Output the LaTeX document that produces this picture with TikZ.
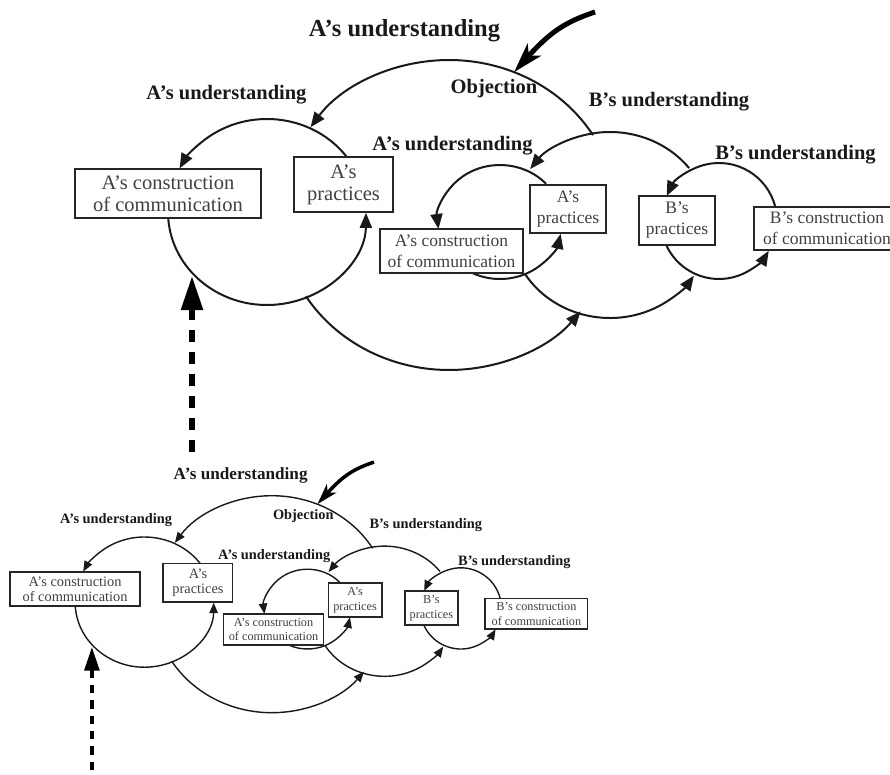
\documentclass[tikz,border=0pt]{standalone}
\usepackage{fontspec}
\setmainfont{Liberation Serif}
\usetikzlibrary{arrows.meta}
\def\dgf{1}
\def\dOn{12}
\def\dOff{10}
\tikzset{
  lbl/.style={font=\bfseries\fontsize{20.5}{22}\selectfont, inner sep=0pt, text=black!90},
  ttl/.style={font=\bfseries\fontsize{24.5}{26}\selectfont, inner sep=0pt, text=black!90},
  bigbox/.style={draw=black!85, line width=2.4*\dgf, fill=white, inner sep=0pt, align=center,
                 text=black!75, font=\fontsize{20.5}{22}\selectfont},
  smallbox/.style={bigbox, font=\fontsize{17.5}{21}\selectfont},
  loopline/.style={draw=black!90, line width=2*\dgf, -{Triangle[length=15pt,width=12pt,scale=\dgf]}},
  dasharrow/.style={draw=black, line width=5.5*\dgf, dash pattern=on \dOn pt off \dOff pt,
                 -{Triangle[length=34pt,width=21pt,scale=\dgf]}},
  objarrow/.style={draw=black, line width=5*\dgf, -{Stealth[length=30pt,width=18pt,inset=8pt,scale=\dgf]}}
}
\newcommand\drawdiag[1]{%
  \pgfmathsetmacro\dOn{12*\dgf}\pgfmathsetmacro\dOff{10*\dgf}%
  % loop centres
  \coordinate (#1L) at (267,212);
  \coordinate (#1E) at (449,215);
  \coordinate (#1M) at (610,225);
  \coordinate (#1I) at (500,222);
  \coordinate (#1R) at (719,221);
  % start points of the loops
  \path (#1L) ++(-36:99 and 93) coordinate (#1La);
  \path (#1L) ++(176:99 and 93) coordinate (#1Lb);
  \path (#1E) ++(-31:168 and 155) coordinate (#1Ea);
  \path (#1E) ++(148.4:168 and 155) coordinate (#1Eb);
  \path (#1M) ++(-37.7:100 and 93) coordinate (#1Ma);
  \path (#1M) ++(148.2:100 and 93) coordinate (#1Mb);
  \path (#1I) ++(-42:62 and 57) coordinate (#1Ia);
  \path (#1I) ++(116:62 and 57) coordinate (#1Ib);
  \path (#1R) ++(-14:58 and 58) coordinate (#1Ra);
  \path (#1R) ++(154.5:58 and 58) coordinate (#1Rb);
  % loops
  \draw[loopline] (#1La) arc[start angle=-36,end angle=-152,x radius=99,y radius=93];
  \draw[loopline] (#1Lb) arc[start angle=176,end angle=0.5,x radius=99,y radius=93];
  \draw[loopline] (#1Ea) arc[start angle=-31,end angle=-145.5,x radius=168,y radius=155];
  \draw[loopline] (#1Eb) arc[start angle=148.4,end angle=38.4,x radius=168,y radius=155];
  \draw[loopline] (#1Ma) arc[start angle=-37.7,end angle=-143,x radius=100,y radius=93];
  \draw[loopline] (#1Mb) arc[start angle=148.2,end angle=33,x radius=100,y radius=93];
  \draw[loopline] (#1Ia) arc[start angle=-42,end angle=-187,x radius=62,y radius=57];
  \draw[loopline] (#1Ib) arc[start angle=116,end angle=12,x radius=62,y radius=57];
  \draw[loopline] (#1Ra) arc[start angle=-14,end angle=-154.5,x radius=58,y radius=58];
  \draw[loopline] (#1Rb) arc[start angle=154.5,end angle=31,x radius=58,y radius=58];
  % objection arrow
  \coordinate (#1oS) at (595,12);
  \path (#1E) ++(-67.2:168 and 155) coordinate (#1oT);
  \draw[objarrow] (#1oS) .. controls +(-30,10) and +(36,-40) .. (#1oT);
  % dashed arrow
  \coordinate (#1dS) at (192,452);
  \coordinate (#1dT) at (192,276);
  \draw[dasharrow] (#1dS) -- (#1dT);
  % boxes
  \node[bigbox, minimum width=186, minimum height=49] (#1cA) at (168,193.5) {A’s construction\\of communication};
  \node[bigbox, minimum width=99, minimum height=55] (#1pA) at (343.5,184.5) {A’s\\practices};
  \node[smallbox, minimum width=143, minimum height=44] (#1cAi) at (451.5,251) {A’s construction\\of communication};
  \node[smallbox, minimum width=76, minimum height=48] (#1pAi) at (568,209) {A’s\\practices};
  \node[smallbox, minimum width=76, minimum height=49] (#1pB) at (677,220.5) {B’s\\practices};
  \node[smallbox, minimum width=146, minimum height=43] (#1cB) at (827,228.5) {B’s construction\\of communication};
  % labels
  \node[ttl] (#1t0) at (404.5,31) {A’s understanding};
  \node[lbl] (#1t1) at (226.5,95) {A’s understanding};
  \node[lbl] (#1t2) at (494,89) {Objection};
  \node[lbl] (#1t3) at (669,102) {B’s understanding};
  \node[lbl] (#1t4) at (452.5,146) {A’s understanding};
  \node[lbl] (#1t5) at (795.5,155) {B’s understanding};
}
\begin{document}
\begin{tikzpicture}[x=1pt,y=-1pt]
  \useasboundingbox (0,0) rectangle (890,774);
  \clip (0,0) rectangle (890,774);
  \fill[white] (0,0) rectangle (890,774);
  \def\dgf{1}
  \drawdiag{u}
  \begin{scope}[shift={(-42.5,453.7)}, scale=0.7, transform shape]
    \def\dgf{0.7}
    \drawdiag{d}
  \end{scope}
\end{tikzpicture}
\end{document}
